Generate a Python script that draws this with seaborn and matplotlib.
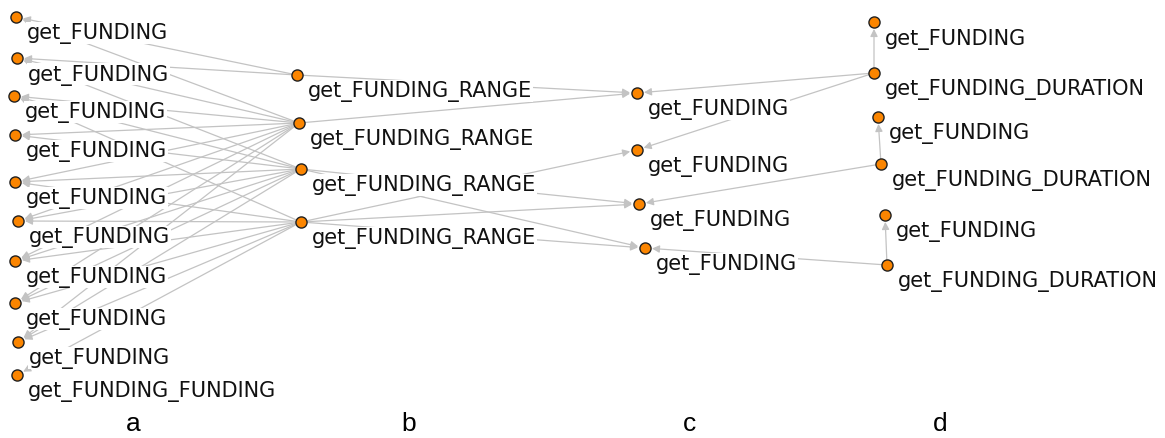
import numpy as np
import pandas as pd
import seaborn as sns
import matplotlib.pyplot as plt

# node ids, labels and layout positions (pixels, y downwards)
node_ids = (
    ["a1", "a2", "a3", "a4", "a5", "a6", "a7", "a8", "a9", "a10"]
    + ["b1", "b2", "b3", "b4"]
    + ["c1", "c2", "c3", "c4"]
    + ["d1", "d2", "d3", "d4", "d5", "d6"]
)
node_labels = (
    ["get_FUNDING"] * 9 + ["get_FUNDING_FUNDING"]
    + ["get_FUNDING_RANGE"] * 4
    + ["get_FUNDING"] * 4
    + ["get_FUNDING", "get_FUNDING_DURATION"] * 3
)
node_x = [16, 17, 14, 15, 15, 18, 15, 15, 18, 17,
          297, 299, 301, 301,
          637, 637, 639, 645,
          874, 874, 878, 881, 885, 887]
node_y = [18, 59, 97, 136, 183, 222, 262, 304, 343, 376,
          76, 124, 170, 223,
          94, 151, 205, 249,
          23, 74, 118, 165, 216, 266]

# directed edges (source -> target)
edges = [
    ("b1", "a1"), ("b1", "a2"), ("b2", "a1"), ("b2", "a2"), ("b2", "a3"),
    ("b3", "a2"), ("b3", "a3"), ("b4", "a3"), ("b2", "a4"), ("b3", "a4"),
    ("b2", "a5"), ("b3", "a5"), ("b4", "a5"), ("b2", "a6"), ("b3", "a6"),
    ("b4", "a6"), ("b2", "a7"), ("b3", "a7"), ("b4", "a7"), ("b2", "a8"),
    ("b3", "a8"), ("b4", "a8"), ("b2", "a9"), ("b3", "a9"), ("b4", "a9"),
    ("b4", "a10"),
    ("b1", "c1"), ("b2", "c1"), ("b4", "c2"), ("b3", "c3"), ("b4", "c3"),
    ("b3", "c4"), ("b4", "c4"),
    ("d2", "c1"), ("d2", "c2"), ("d4", "c3"), ("d6", "c4"),
    ("d2", "d1"), ("d4", "d3"), ("d6", "d5"),
]

panel_letters = ["a", "b", "c", "d"]
panel_x = [133, 409, 690, 940]

df = pd.DataFrame({"id": node_ids, "label": node_labels, "x": node_x, "y": node_y})
pos = df.set_index("id")[["x", "y"]]

fig = plt.figure(figsize=(11.65, 4.39), dpi=100)
ax = fig.add_axes([0, 0, 1, 1])

# edges
for src, dst in edges:
    ax.annotate(
        "",
        xy=(pos.loc[dst, "x"], pos.loc[dst, "y"]),
        xytext=(pos.loc[src, "x"], pos.loc[src, "y"]),
        arrowprops=dict(arrowstyle="-|>", color="#c3c3c3", lw=0.9,
                        mutation_scale=11, shrinkA=4, shrinkB=5),
        zorder=1,
    )

# labels hide the lines behind them
for _, row in df.iterrows():
    ax.text(row["x"] + 11, row["y"] + 16, row["label"], fontsize=15,
            family="DejaVu Sans", color="#111111", va="center", ha="left",
            bbox=dict(facecolor="white", edgecolor="none", pad=0.5), zorder=2)

sns.scatterplot(data=df, x="x", y="y", ax=ax, color="#fb8500", s=64,
                edgecolor="#202020", linewidth=1.0, zorder=3, legend=False)
ax.set_xlim(0, 1165)
ax.set_ylim(439, 0)
ax.axis("off")

for letter, px in zip(panel_letters, panel_x):
    ax.text(px, 424, letter, fontsize=19, family="Liberation Sans",
            ha="center", va="center", color="black")

fig.savefig("out.png", dpi=100)
